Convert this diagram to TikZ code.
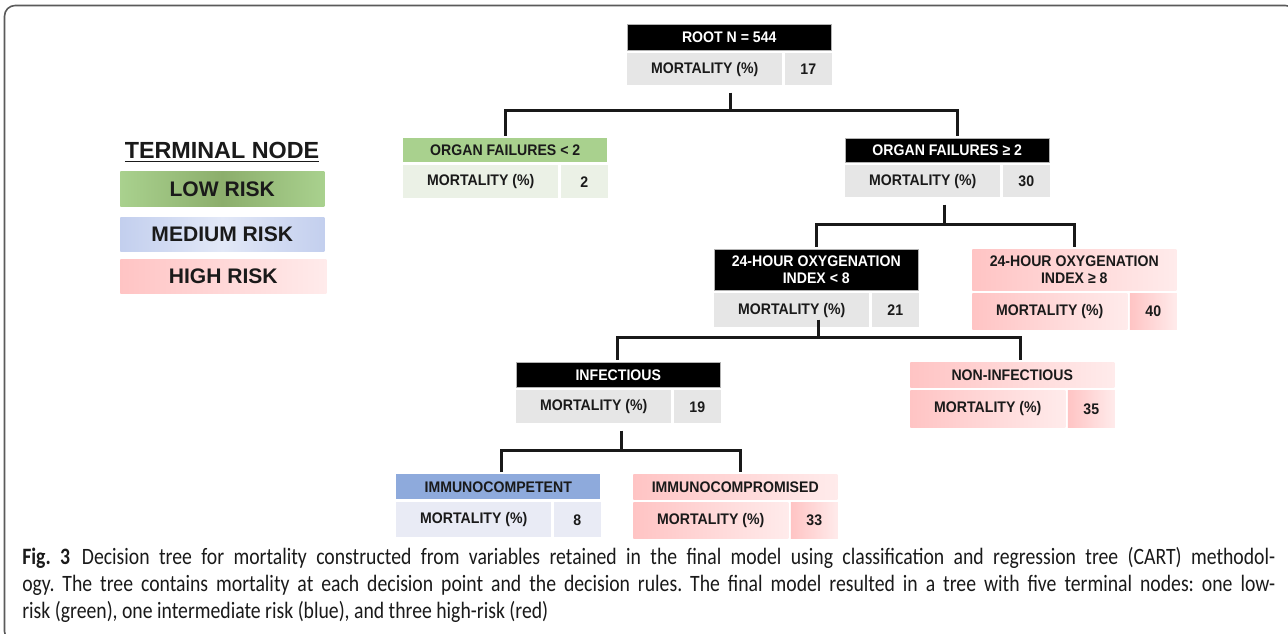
\documentclass[tikz,border=0pt]{standalone}
\usepackage{fontspec}
\setmainfont{Liberation Sans}
\newfontfamily\nfont[FakeStretch=0.92]{Liberation Sans}
\newfontfamily\capfont[FakeStretch=0.84]{Carlito}
\usetikzlibrary{calc}
\definecolor{txt}{HTML}{1A1A1A}
\definecolor{cgray}{HTML}{E6E6E6}
\definecolor{hgreen}{HTML}{A9D18E}
\definecolor{rgreen}{HTML}{EBF1E6}
\definecolor{hblue}{HTML}{8EAADC}
\definecolor{rblue}{HTML}{E9EBF5}
\definecolor{pkA}{HTML}{FFC4C4}
\definecolor{pkB}{HTML}{FFEBEB}
\definecolor{lgA}{HTML}{A9D18E}
\definecolor{lgB}{HTML}{8CAE6C}
\definecolor{lbA}{HTML}{C3CFEE}
\definecolor{lbB}{HTML}{E2E8F7}
\definecolor{frame}{HTML}{5A5A5A}
\tikzset{
  box/.style={inner sep=0pt, anchor=north west, align=center, text=txt,
    font=\nfont\bfseries\fontsize{11.5}{12.6}\selectfont},
  hdblack/.style={fill=black, draw=gray!60, line width=0.4pt, text=white},
  hdgreen/.style={fill=hgreen},
  hdblue/.style={fill=hblue},
  hdpink/.style={left color=pkA, right color=pkB},
  rowgray/.style={fill=cgray},
  rowgreen/.style={fill=rgreen},
  rowblue/.style={fill=rblue},
  rowpink/.style={left color=pkA, right color=pkB},
  conn/.style={line width=2.25pt, draw=black!90},
  legbox/.style={inner sep=0pt, anchor=north west, text=txt,
    font=\bfseries\fontsize{15.8}{17}\selectfont, minimum width=153pt, minimum height=25.5pt}
}
% name, L, T, H, header style, header text, row style, value, R
\newcommand\tnode[9]{%
  \node[box,#5,minimum width=153pt,minimum height=#4*0.75pt] (#1h) at (#2,#3) {#6};
  \node[box,#7,minimum width=116.25pt,minimum height=#9*0.75pt] (#1m) at ($(#1h.south west)+(0,2.5)$) {MORTALITY (\%)};
  \node[box,#7,minimum width=35.25pt,minimum height=#9*0.75pt] (#1v) at ($(#1m.north east)+(2,0)$) {#8};%
}
\begin{document}
\begin{tikzpicture}[x=0.75pt,y=-0.75pt]
\useasboundingbox (0,0) rectangle (1288,634);
\fill[white] (0,0) rectangle (1288,634);
\draw[frame, line width=1.2pt, rounded corners=8pt] (4.5,5.5) rectangle (1296,642);

% legend
\node[inner sep=0pt, text=txt, font=\bfseries\fontsize{17.5}{19}\selectfont] (lt) at (222,152) {\underline{TERMINAL NODE}};
\node[legbox, left color=lgA, right color=lgA, middle color=lgB, minimum height=26.25pt] (low) at (120,171) {LOW RISK};
\node[legbox, left color=lbA, right color=lbA, middle color=lbB] (med) at (120,217) {MEDIUM RISK};
\node[legbox, left color=pkA, right color=pkB, minimum width=154.5pt] (high) at (120,259) {HIGH RISK};

% tree nodes
\tnode{root}{627}{24}{26}{hdblack}{ROOT N = 544}{rowgray}{17}{32}
\tnode{ofl}{403}{138}{24}{hdgreen}{ORGAN FAILURES < 2}{rowgreen}{2}{33}
\tnode{ofg}{845}{138}{24}{hdblack}{ORGAN FAILURES ≥ 2}{rowgray}{30}{32}
\tnode{oxl}{714}{249}{41}{hdblack}{24-HOUR OXYGENATION\\INDEX < 8}{rowgray}{21}{34}
\tnode{oxg}{972}{249}{41}{hdpink}{24-HOUR OXYGENATION\\INDEX ≥ 8}{rowpink}{40}{36}
\tnode{inf}{516}{362}{25}{hdblack}{INFECTIOUS}{rowgray}{19}{33}
\tnode{ninf}{910}{362}{25}{hdpink}{NON-INFECTIOUS}{rowpink}{35}{37}
\tnode{imc}{396}{474}{25}{hdblue}{IMMUNOCOMPETENT}{rowblue}{8}{35}
\tnode{imp}{633}{474}{25}{hdpink}{IMMUNOCOMPROMISED}{rowpink}{33}{36}

% connectors
\coordinate (j1) at (730,111);
\draw[conn] ($(rootm.south -| j1)+(0,7)$) -- (j1);
\draw[conn] ($(oflh.north)+(0,-2)$) |- (j1) -| ($(ofgh.north)+(10,-2)$);
\coordinate (j2) at (944,225);
\draw[conn] ($(ofgm.south -| j2)+(0,7)$) -- (j2);
\draw[conn] ($(oxlh.north)+(0,-2)$) |- (j2) -| ($(oxgh.north)+(0,-2)$);
\coordinate (j3) at (818,338);
\draw[conn] ($(oxlm.south -| j3)+(0,-8)$) -- (j3);
\draw[conn] ($(infh.north)+(-1,-2)$) |- (j3) -| ($(ninfh.north)+(8,-2)$);
\coordinate (j4) at (621,450);
\draw[conn] ($(infm.south -| j4)+(0,7)$) -- (j4);
\draw[conn] ($(imch.north)+(3,-2)$) |- (j4) -| ($(imph.north)+(5,-2)$);

% caption
\node[anchor=north west, inner sep=0pt, text width=939.75pt, align=justify, text=txt,
  font=\capfont\fontsize{17.6}{20.25}\selectfont] (cap) at (22,547)
{\frenchspacing\hyphenpenalty=10000\exhyphenpenalty=10000{\bfseries Fig.~3}\enspace Decision tree for mortality constructed from variables retained in the final model using classification and regression tree (CART) methodol-\linebreak ogy. The tree contains mortality at each decision point and the decision rules. The final model resulted in a tree with five terminal nodes: one low-\linebreak risk (green), one intermediate risk (blue), and three high-risk (red)};
\end{tikzpicture}
\end{document}
